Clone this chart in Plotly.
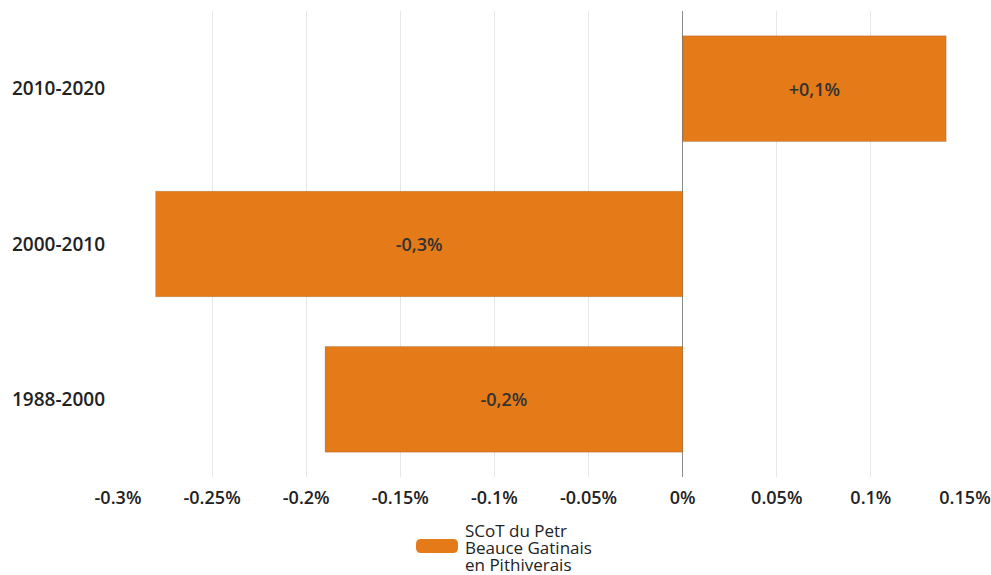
import plotly.graph_objects as go

categories = ["1988-2000", "2000-2010", "2010-2020"]
values = [-0.19, -0.28, 0.14]
labels = ["-0,2%", "-0,3%", "+0,1%"]
tick_vals = [-0.3, -0.25, -0.2, -0.15, -0.1, -0.05, 0, 0.05, 0.1, 0.15]
tick_text = ["-0.3%", "-0.25%", "-0.2%", "-0.15%", "-0.1%", "-0.05%", "0%", "0.05%", "0.1%", "0.15%"]
legend_lines = ["SCoT du Petr", "Beauce Gatinais", "en Pithiverais"]

FONT = "Open Sans"
ORANGE = "#E57A18"
W, H = 991, 575
ML, MR, MT, MB = 118, 26, 11, 98

fig = go.Figure()
fig.add_trace(go.Bar(
    y=categories, x=values, orientation="h", name=" ".join(legend_lines),
    marker=dict(color=ORANGE, line=dict(color="rgba(0,0,0,0.12)", width=1)),
    text=labels, textposition="inside", insidetextanchor="middle",
    textfont=dict(family=FONT, size=18, color="#333333", weight=600),
    showlegend=False,
))

fig.update_layout(
    width=W, height=H,
    margin=dict(l=ML, r=MR, t=MT, b=MB, autoexpand=False),
    paper_bgcolor="white", plot_bgcolor="white",
    bargap=0.32,
    font=dict(family=FONT, size=18, color="#222"),
    xaxis=dict(range=[-0.3, 0.15], tickvals=tick_vals, ticktext=tick_text,
               showgrid=True, gridcolor="#e6e6e6", gridwidth=1,
               zeroline=True, zerolinecolor="#8a8a8a", zerolinewidth=1,
               tickfont=dict(family=FONT, size=18, color="#222", weight=600),
               ticks="", ticklabelstandoff=8, automargin=False),
    yaxis=dict(showgrid=False, ticks="", ticklabelstandoff=12, automargin=False,
               tickfont=dict(family=FONT, size=19, color="#222", weight=600)),
    showlegend=False,
)

# legend drawn in paper pixel space (swatch + three text lines)
ph = H - MT - MB
pw = W - ML - MR
def px_x(x):
    return (x - ML) / pw
def px_y(y):
    return (H - MB - y) / ph

sx0, sx1, sy0, sy1, r = 416, 458, 539, 553, 5
path = (f"M {px_x(sx0 + r)} {px_y(sy0)} L {px_x(sx1 - r)} {px_y(sy0)} "
        f"Q {px_x(sx1)} {px_y(sy0)} {px_x(sx1)} {px_y(sy0 + r)} "
        f"L {px_x(sx1)} {px_y(sy1 - r)} Q {px_x(sx1)} {px_y(sy1)} {px_x(sx1 - r)} {px_y(sy1)} "
        f"L {px_x(sx0 + r)} {px_y(sy1)} Q {px_x(sx0)} {px_y(sy1)} {px_x(sx0)} {px_y(sy1 - r)} "
        f"L {px_x(sx0)} {px_y(sy0 + r)} Q {px_x(sx0)} {px_y(sy0)} {px_x(sx0 + r)} {px_y(sy0)} Z")
fig.add_shape(type="path", path=path, xref="paper", yref="paper",
              fillcolor=ORANGE, line=dict(width=0))

line_centers = [530, 547, 564]
for txt, cy in zip(legend_lines, line_centers):
    fig.add_annotation(text=txt, x=px_x(464), y=px_y(cy), xref="paper", yref="paper",
                       xanchor="left", yanchor="middle", showarrow=False, borderpad=0,
                       font=dict(family=FONT, size=17, color="#222", weight=500))

fig.write_html("out.html", config={"displayModeBar": False},
               post_script="document.body.style.margin='0';document.body.style.overflow='hidden';")
